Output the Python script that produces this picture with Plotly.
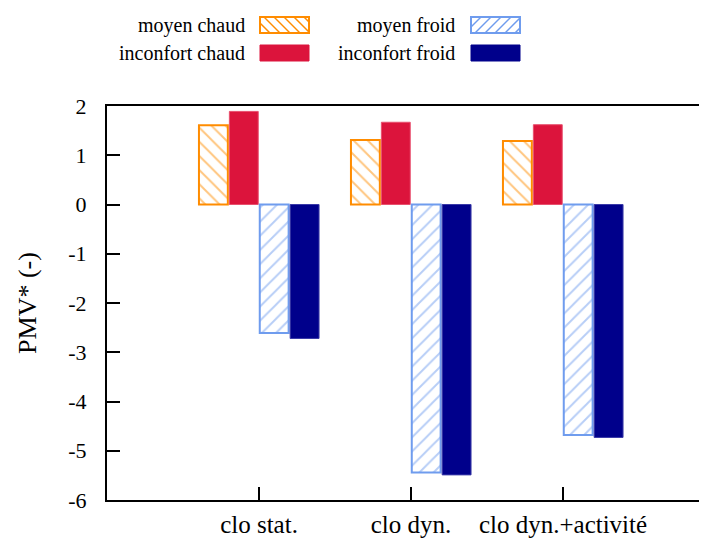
import plotly.graph_objects as go

categories = ["clo stat.", "clo dyn.", "clo dyn.+activité"]
moyen_chaud = [1.61, 1.31, 1.29]
inconfort_chaud = [1.89, 1.67, 1.62]
moyen_froid = [-2.61, -5.44, -4.68]
inconfort_froid = [-2.72, -5.49, -4.73]
y_ticks = [2, 1, 0, -1, -2, -3, -4, -5, -6]

ORANGE = "#FF8C00"
CRIMSON = "#DC143C"
LBLUE = "#6F9CEE"
NAVY = "#00008B"
FONT = "Liberation Serif"

OFF = 8  # page body margin
W, H = 707, 541
ML, MR, MT, MB = 107 - OFF, 0, 106 - OFF, H + OFF - 500

fig = go.Figure()
xs = list(range(len(categories)))
fig.add_trace(go.Bar(x=xs, y=moyen_chaud, name="moyen chaud",
                     marker=dict(color="white", line=dict(color=ORANGE, width=2),
                                 pattern=dict(shape="\\", fgcolor=ORANGE, bgcolor="white",
                                              size=10, solidity=0.2))))
fig.add_trace(go.Bar(x=xs, y=inconfort_chaud, name="inconfort chaud",
                     marker=dict(color=CRIMSON, line=dict(color="#E8506E", width=1))))
fig.add_trace(go.Bar(x=xs, y=moyen_froid, name="moyen froid",
                     marker=dict(color="white", line=dict(color=LBLUE, width=2),
                                 pattern=dict(shape="/", fgcolor=LBLUE, bgcolor="white",
                                              size=10, solidity=0.2))))
fig.add_trace(go.Bar(x=xs, y=inconfort_froid, name="inconfort froid",
                     marker=dict(color=NAVY, line=dict(color="#3A3AA8", width=1))))

PW = W - ML - MR
PH = H - MT - MB


def px(x):
    return (x - OFF - ML) / PW


def py(y):
    return (H - MB - (y - OFF)) / PH


shapes = []
annotations = []


def swatch(x0, y0, x1, y1, color, kind):
    if kind == "solid":
        shapes.append(dict(type="rect", xref="paper", yref="paper",
                           x0=px(x0), x1=px(x1), y0=py(y1), y1=py(y0),
                           fillcolor=color, line=dict(color=color, width=1)))
        return
    shapes.append(dict(type="rect", xref="paper", yref="paper",
                       x0=px(x0), x1=px(x1), y0=py(y1), y1=py(y0),
                       fillcolor="white", line=dict(color=color, width=2)))
    h = y1 - y0
    step = 10
    c = x0 - h
    while c < x1 + h:
        if kind == "back":
            ax, ay, bx, by = c, y0, c + h, y1
        else:
            ax, ay, bx, by = c, y1, c + h, y0
        pts = []
        for t in [i / 200 for i in range(201)]:
            xx = ax + (bx - ax) * t
            yy = ay + (by - ay) * t
            if x0 <= xx <= x1:
                pts.append((xx, yy))
        if len(pts) > 1:
            shapes.append(dict(type="line", xref="paper", yref="paper",
                               x0=px(pts[0][0]), y0=py(pts[0][1]),
                               x1=px(pts[-1][0]), y1=py(pts[-1][1]),
                               line=dict(color=color, width=1.5)))
        c += step


legend_items = [
    ("moyen chaud", 247, 260, 17, ORANGE, "back"),
    ("inconfort chaud", 247, 260, 45, CRIMSON, "solid"),
    ("moyen froid", 457, 471, 17, LBLUE, "fwd"),
    ("inconfort froid", 457, 471, 45, NAVY, "solid"),
]
for text, tx, sx, sy, col, kind in legend_items:
    swatch(sx, sy, sx + 49, sy + 16, col, kind)
    annotations.append(dict(text=text, xref="paper", yref="paper",
                            x=px(tx), y=py(sy + 8), xanchor="right", yanchor="middle",
                            showarrow=False, font=dict(family=FONT, size=20, color="black")))

fig.update_layout(
    width=W, height=H,
    margin=dict(l=ML, r=MR, t=MT, b=MB, pad=0),
    paper_bgcolor="white", plot_bgcolor="white",
    barmode="group", bargap=0.2, bargroupgap=0.05,
    showlegend=False,
    font=dict(family=FONT, size=22, color="black"),
    shapes=shapes, annotations=annotations,
)
fig.update_xaxes(range=[-1, 3], tickvals=xs, ticktext=categories,
                 showline=True, linecolor="black", linewidth=2, mirror=True,
                 ticks="inside", ticklen=13, tickwidth=2, tickcolor="black",
                 showgrid=False, zeroline=False, ticklabelstandoff=1,
                 tickfont=dict(family=FONT, size=25, color="black"))
fig.update_yaxes(range=[-6, 2], tickvals=y_ticks, ticktext=[str(v) for v in y_ticks],
                 showline=True, linecolor="black", linewidth=2, mirror=False,
                 ticks="inside", ticklen=13, tickwidth=2, tickcolor="black",
                 showgrid=False, zeroline=False, ticklabelstandoff=14,
                 tickfont=dict(family=FONT, size=22, color="black"),
                 title=dict(text="PMV* (-)", standoff=24,
                            font=dict(family=FONT, size=26, color="black")))

fig.write_html("out.html")
